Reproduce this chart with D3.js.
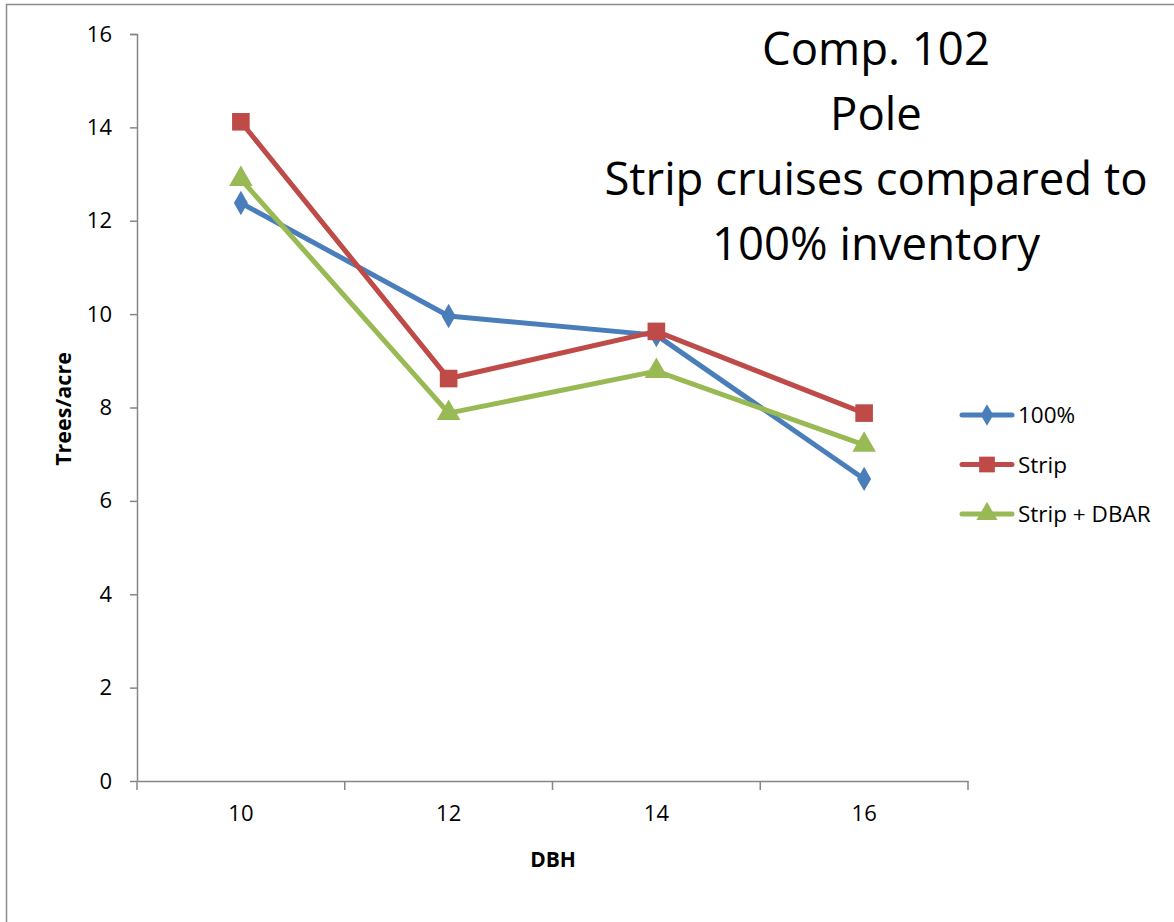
<!DOCTYPE html>
<html><head><meta charset="utf-8">
<script src="https://cdn.jsdelivr.net/npm/d3@7"></script>
<style>body{margin:0;background:#fff}svg{display:block}text{font-family:"Open Sans",sans-serif}</style>
</head><body><svg id="c" width="1174" height="922"></svg>
<script>
const categories = ["10","12","14","16"];
const seriesNames = ["100%","Strip","Strip + DBAR"];
const values100 = [12.38, 9.96, 9.55, 6.47];
const valuesStrip = [14.12, 8.62, 9.63, 7.88];
const valuesDbar = [12.89, 7.88, 8.78, 7.20];
const yTicks = [0,2,4,6,8,10,12,14,16];
const titleLines = ["Comp. 102","Pole","Strip cruises compared to","100% inventory"];
const colors = ["#4A7EBB","#BE4B48","#98B954"];
const symbols = [d3.symbolDiamond, d3.symbolSquare, d3.symbolTriangle];
const symSizes = [170, 310, 240];

const svg = d3.select("#c");
svg.append("rect").attr("x",6.5).attr("y",4.5).attr("width",1180).attr("height",930)
  .attr("fill","none").attr("stroke","#8c8c8c").attr("stroke-width",1.5);

const x = d3.scaleBand().domain(categories).range([137,968]);
const y = d3.scaleLinear().domain([0,16]).range([781,34]);

// y axis
const ya = svg.append("g").attr("transform","translate(137,0)")
  .call(d3.axisLeft(y).tickValues(yTicks).tickSize(7).tickPadding(18));
ya.attr("font-size",null).attr("font-family",null);
ya.select(".domain").attr("stroke","#868686").attr("stroke-width",1.5).attr("d","M-7,34.5H0.5V781");
ya.selectAll(".tick line").attr("stroke","#868686").attr("stroke-width",1.5);
ya.selectAll(".tick text").attr("font-size",22).attr("fill","#000");

// x axis
const xa = svg.append("g").attr("transform","translate(0,781)")
  .call(d3.axisBottom(x).tickSize(0).tickPadding(24));
xa.attr("font-size",null).attr("font-family",null);
xa.select(".domain").attr("stroke","#868686").attr("stroke-width",1.5);
xa.selectAll(".tick text").attr("font-size",22).attr("fill","#000");
const bounds = categories.map(c=>x(c)).concat([x(categories[categories.length-1])+x.bandwidth()]);
xa.selectAll(".bt").data(bounds).join("line").attr("class","bt")
  .attr("x1",d=>d).attr("x2",d=>d).attr("y1",0).attr("y2",9)
  .attr("stroke","#868686").attr("stroke-width",1.5);

// axis titles
svg.append("text").attr("x",553).attr("y",867).attr("text-anchor","middle")
  .attr("font-size",21).attr("font-weight","bold").text("DBH");
svg.append("text").attr("transform","translate(71,409) rotate(-90)").attr("text-anchor","middle")
  .attr("font-size",21.5).attr("font-weight","bold").text("Trees/acre");

// series
const allSeries = [values100, valuesStrip, valuesDbar];
const cx = c => x(c) + x.bandwidth()/2;
const line = d3.line().x((d,i)=>cx(categories[i])).y(d=>y(d));
allSeries.forEach((vals,k)=>{
  svg.append("path").datum(vals).attr("d",line).attr("fill","none")
    .attr("stroke",colors[k]).attr("stroke-width",5).attr("stroke-linejoin","round");
});
allSeries.forEach((vals,k)=>{
  svg.selectAll(".m"+k).data(vals).join("path").attr("class","m"+k)
    .attr("transform",(d,i)=>`translate(${cx(categories[i])},${y(d)})`)
    .attr("d",d3.symbol().type(symbols[k]).size(symSizes[k])).attr("fill",colors[k]);
});

// legend
const lg = svg.append("g");
seriesNames.forEach((n,k)=>{
  const yy = 415 + k*49.5;
  lg.append("line").attr("x1",962).attr("x2",1012).attr("y1",yy).attr("y2",yy)
    .attr("stroke",colors[k]).attr("stroke-width",5).attr("stroke-linecap","round");
  lg.append("path").attr("transform",`translate(987,${yy})`)
    .attr("d",d3.symbol().type(symbols[k]).size(symSizes[k]*0.8)).attr("fill",colors[k]);
  lg.append("text").attr("x",1018).attr("y",yy+8).attr("font-size",22.5).text(n);
});

// title
titleLines.forEach((t,i)=>{
  svg.append("text").attr("x",876).attr("y",65+i*65).attr("text-anchor","middle")
    .attr("font-size",45.5).text(t);
});
</script></body></html>
